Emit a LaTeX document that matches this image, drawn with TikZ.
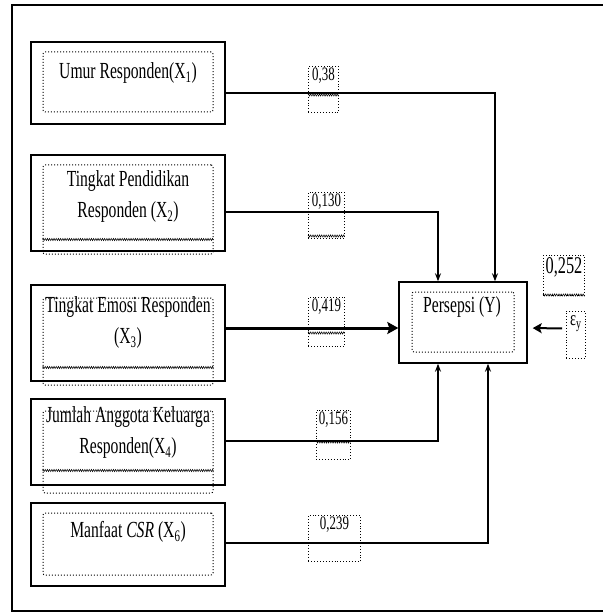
\documentclass[tikz,border=0pt]{standalone}
\usepackage{fontspec}
\setmainfont{Liberation Serif}[FakeStretch=0.68]
\usepackage{tikz}
\usetikzlibrary{arrows.meta, positioning, calc, decorations.pathmorphing}

\begin{document}
\begin{tikzpicture}[
    x=1pt, y=-1pt,
    box/.style={
        rectangle, draw=black, line width=1.4pt, fill=white,
        minimum width=194pt, inner sep=0pt
    },
    inbox/.style={
        rectangle, rounded corners=2pt, draw=black, dotted, line width=1pt,
        minimum width=170pt, inner sep=0pt
    },
    txt/.style={font=\fontsize{23}{31}\selectfont, align=center, inner sep=0pt},
    coef/.style={
        rectangle, draw=black, dotted, line width=0.9pt, anchor=north west,
        inner sep=1pt, text height=13pt, text depth=31pt,
        font=\fontsize{19}{21}\selectfont
    },
    wavy/.style={decorate, decoration={zigzag, amplitude=1.1pt, segment length=2.2pt}, line width=0.5pt},
    arr/.style={-{Stealth[length=8pt, width=6pt]}, line width=1.2pt},
    barr/.style={-{Stealth[length=11pt, width=12pt, inset=2pt]}, line width=3pt},
    earr/.style={-{Stealth[length=9pt, width=10pt, inset=2pt]}, line width=2pt, shorten >=5pt},
]
\useasboundingbox (0,0) rectangle (602,612);

% Frame
\draw[line width=2pt] (12,5) rectangle (606,611);

% Variable boxes
\node[box, minimum height=82pt] (x1) at (128,83) {};
\node[box, minimum height=96pt] (x2) at (128,203) {};
\node[box, minimum height=96pt] (x3) at (128,333) {};
\node[box, minimum height=86pt] (x4) at (128,442) {};
\node[box, minimum height=83pt] (x5) at (128,544.5) {};

% Inner text frames
\node[inbox, minimum height=60pt] (x1in) at (128,82) {};
\node[inbox, minimum height=89pt] (x2in) at (128,209.5) {};
\node[inbox, minimum height=87pt] (x3in) at (128,341.5) {};
\node[inbox, minimum height=82pt] (x4in) at (128,452) {};
\node[inbox, minimum height=62pt] (x5in) at (128,544) {};
\draw[wavy] ([yshift=-75pt]x2in.north west) -- ([yshift=-75pt]x2in.north east);
\draw[wavy] ([yshift=-70pt]x3in.north west) -- ([yshift=-70pt]x3in.north east);
\draw[wavy] ([yshift=-60pt]x4in.north west) -- ([yshift=-60pt]x4in.north east);

% Texts
\node[txt] (x1t) at (128,73) {Umur Responden(X\textsubscript{1})};
\node[txt] (x2t) at (128,196.5) {Tingkat Pendidikan\\Responden (X\textsubscript{2})};
\node[txt] (x3t) at (128,322.5) {Tingkat Emosi Responden\\(X\textsubscript{3})};
\node[txt] (x4t) at (128,432.5) {Jumlah Anggota Keluarga\\Responden(X\textsubscript{4})};
\node[txt] (x5t) at (128,532) {Manfaat \textit{CSR} (X\textsubscript{6})};

% Persepsi
\node[box, minimum width=128pt, minimum height=81pt] (y) at (463,322.5) {};
\node[inbox, minimum width=102pt, minimum height=60pt] (yin) at (463,322) {};
\node[txt] (yt) at (462,307) {Persepsi (Y)};

% Coefficients
\node[coef, minimum width=30pt] (c1) at (308,66) {0,38};
\node[coef, minimum width=36pt] (c2) at (308,192) {0,130};
\node[coef, minimum width=36pt, text depth=34pt] (c3) at (308,297) {0,419};
\node[coef, minimum width=34pt, text depth=34pt] (c4) at (316,410) {0,156};
\node[coef, minimum width=52pt] (c5) at (308,515) {0,239};
\node[coef, minimum width=41pt, text height=17pt, text depth=21pt,
      font=\fontsize{24}{26}\selectfont] (c6) at (543,255) {0,252};
\node[coef, minimum width=19pt, text height=13pt, text depth=32pt,
      font=\fontsize{21}{23}\selectfont] (e) at (566,311) {ε\textsubscript{y}};
\draw[wavy] ([yshift=-29pt]c1.north west) -- ([yshift=-29pt]c1.north east);
\draw[wavy] ([yshift=-44pt]c2.north west) -- ([yshift=-44pt]c2.north east);
\draw[wavy] ([yshift=-36pt]c3.north west) -- ([yshift=-36pt]c3.north east);
\draw[wavy] ([yshift=-32pt]c4.north west) -- ([yshift=-32pt]c4.north east);
\draw[wavy] ([yshift=-40pt]c6.north west) -- ([yshift=-40pt]c6.north east);

% Paths into Persepsi
\draw[arr] ([yshift=-10pt]x1.east) -| ([xshift=32pt]y.north);
\draw[arr] ([yshift=-9pt]x2.east) -| ([xshift=-25pt]y.north);
\draw[barr] ([yshift=5pt]x3.east) -- ([yshift=-5.5pt]y.west);
\draw[arr] ([yshift=1pt]x4.east) -| ([xshift=-25pt]y.south);
\draw[arr] ([yshift=1.5pt]x5.east) -| ([xshift=25pt]y.south);

% Error term
\draw[earr] ([xshift=-4pt, yshift=6.5pt]e.west) -- ([yshift=-5.5pt]y.east);

\end{tikzpicture}
\end{document}
